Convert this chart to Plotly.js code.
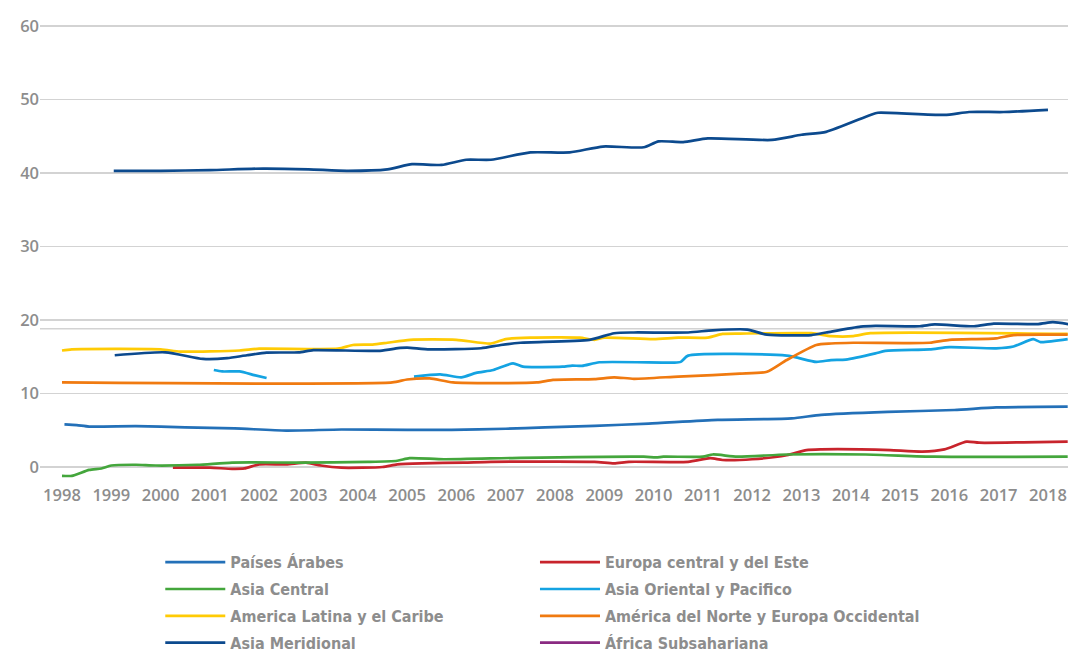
<!DOCTYPE html>
<html>
<head>
<meta charset="utf-8">
<script src="https://cdn.plot.ly/plotly-3.0.1.min.js"></script>
<style>html,body{margin:0;padding:0;background:#fff;}#chart{width:1071px;height:652px;}</style>
</head>
<body>
<div id="chart"></div>
<script>
// Tick labels
const anios = [1998,1999,2000,2001,2002,2003,2004,2005,2006,2007,2008,2009,2010,2011,2012,2013,2014,2015,2016,2017,2018];
const valoresY = [0,10,20,30,40,50,60];

// Países Árabes
const xPaisesArabes = [1998.05,1998.3,1998.55,1999.5,2000.5,2001.5,2002.55,2003.67,2005.0,2005.9,2007.0,2007.8,2008.8,2009.9,2011.3,2012.8,2013.4,2014.75,2016.1,2016.95,2018.4];
const yPaisesArabes = [5.8,5.7,5.5,5.55,5.4,5.25,4.95,5.1,5.05,5.05,5.2,5.4,5.6,5.9,6.4,6.6,7.1,7.5,7.75,8.1,8.2];

// Europa central y del Este
const xEuropaCentral = [2000.25,2001.0,2001.45,2001.7,2002.0,2002.55,2002.95,2003.25,2003.67,2004.5,2004.8,2005.3,2006.15,2006.7,2008.8,2009.2,2009.5,2010.7,2011.15,2011.4,2012.0,2012.7,2013.1,2013.4,2014.2,2014.8,2015.45,2015.9,2016.35,2016.6,2017.5,2018.4];
const yEuropaCentral = [-0.1,-0.1,-0.25,-0.2,0.35,0.35,0.6,0.2,-0.1,0.0,0.35,0.5,0.6,0.7,0.7,0.5,0.7,0.7,1.2,0.95,1.05,1.6,2.3,2.4,2.4,2.3,2.1,2.4,3.45,3.3,3.35,3.45];

// Asia Central
const xAsiaCentral = [1998.0,1998.2,1998.55,1998.8,1999.0,1999.5,1999.9,2000.75,2001.45,2002.85,2004.2,2004.8,2005.05,2005.75,2007.3,2009.8,2010.05,2010.2,2011.0,2011.2,2011.7,2012.7,2014.3,2015.7,2018.4];
const yAsiaCentral = [-1.2,-1.2,-0.4,-0.2,0.2,0.3,0.2,0.3,0.6,0.6,0.7,0.85,1.2,1.05,1.25,1.4,1.3,1.4,1.4,1.7,1.4,1.7,1.7,1.4,1.4];

// Asia Oriental y Pacifico (two segments)
const xAsiaOriental = [2001.08,2001.25,2001.6,2001.9,2002.15,2003.5,2005.14,2005.67,2006.1,2006.4,2006.75,2007.15,2007.35,2008.15,2008.35,2008.55,2008.9,2010.4,2010.55,2010.7,2012.7,2013.3,2013.6,2013.9,2014.5,2014.7,2015.6,2016.0,2016.95,2017.3,2017.7,2017.85,2018.4];
const yAsiaOriental = [13.2,13.0,13.0,12.5,12.1,null,12.3,12.6,12.2,12.8,13.2,14.1,13.65,13.65,13.8,13.75,14.25,14.2,14.3,15.15,15.15,14.3,14.55,14.6,15.45,15.8,16.0,16.3,16.15,16.4,17.4,17.0,17.4];

// America Latina y el Caribe
const xAmericaLatina = [1998.0,1998.2,2000.0,2000.4,2001.6,2002.0,2003.6,2003.9,2004.3,2004.6,2005.06,2006.0,2006.7,2007.0,2007.5,2008.5,2008.8,2009.0,2010.0,2010.5,2011.1,2011.4,2011.75,2013.2,2013.6,2014.05,2014.4,2018.4];
const yAmericaLatina = [15.85,16.0,16.0,15.7,15.85,16.1,16.1,16.6,16.65,16.9,17.3,17.3,16.8,17.4,17.6,17.6,17.3,17.6,17.4,17.6,17.6,18.1,18.15,18.2,17.8,17.8,18.2,18.1];

// América del Norte y Europa Occidental
const xAmericaNorte = [1998.0,2004.7,2005.0,2005.46,2005.93,2007.63,2007.96,2008.8,2009.2,2009.6,2010.5,2011.2,2011.75,2012.3,2012.7,2013.3,2013.6,2014.05,2015.6,2016.0,2016.95,2017.3,2018.4];
const yAmericaNorte = [11.5,11.5,11.9,12.05,11.5,11.5,11.85,11.95,12.2,12.0,12.3,12.5,12.7,12.95,14.55,16.6,16.8,16.9,16.9,17.3,17.5,17.95,18.0];

// Asia Meridional
const xAsiaMeridional = [1999.07,2000.1,2000.86,2001.35,2001.75,2002.15,2002.8,2003.1,2004.45,2004.86,2005.0,2005.46,2006.5,2006.9,2007.3,2008.7,2009.2,2009.6,2010.7,2011.2,2011.9,2012.3,2013.2,2013.5,2014.2,2014.5,2015.4,2015.7,2016.5,2016.9,2017.8,2018.1,2018.45];
const yAsiaMeridional = [15.2,15.6,14.7,14.8,15.2,15.55,15.6,15.9,15.8,16.2,16.25,16.0,16.15,16.6,16.9,17.3,18.2,18.3,18.3,18.6,18.7,18.0,17.95,18.3,19.1,19.2,19.15,19.4,19.15,19.5,19.45,19.7,19.4];

// Upper series (drawn in the same dark blue, not in legend)
const xSerieSuperior = [1999.05,2000.0,2001.0,2002.08,2003.0,2003.78,2004.6,2005.1,2005.7,2006.2,2006.7,2007.5,2008.3,2008.97,2009.8,2010.1,2010.6,2011.1,2012.4,2013.0,2013.5,2014.4,2014.55,2015.9,2016.4,2017.1,2018.0];
const ySerieSuperior = [40.3,40.3,40.4,40.6,40.5,40.3,40.5,41.2,41.1,41.8,41.8,42.8,42.8,43.6,43.5,44.3,44.2,44.7,44.5,45.2,45.6,47.9,48.2,47.9,48.3,48.3,48.6];

// África Subsahariana (no visible values)
const xAfricaSub = [null];
const yAfricaSub = [null];

const colores = {
  arabes: '#2370b8', europa: '#c8242c', central: '#44a63c', oriental: '#14a3e2',
  latina: '#ffcb05', norte: '#f07a10', meridional: '#0c4a8e', africa: '#8a2a82'
};

function serie(name, x, y, color, legendId, extra) {
  return Object.assign({
    type: 'scatter', mode: 'lines', name: name, x: x, y: y,
    line: {color: color, width: 2.7, shape: 'spline', smoothing: 0.6},
    connectgaps: false, hoverinfo: 'x+y+name',
    legend: legendId, legendgroup: name
  }, extra || {});
}

const data = [
  serie('Países Árabes', xPaisesArabes, yPaisesArabes, colores.arabes, 'legend'),
  serie('Europa central y del Este', xEuropaCentral, yEuropaCentral, colores.europa, 'legend2'),
  serie('Asia Central', xAsiaCentral, yAsiaCentral, colores.central, 'legend'),
  serie('Asia Oriental y Pacifico', xAsiaOriental, yAsiaOriental, colores.oriental, 'legend2'),
  serie('America Latina y el Caribe', xAmericaLatina, yAmericaLatina, colores.latina, 'legend'),
  serie('América del Norte y Europa Occidental', xAmericaNorte, yAmericaNorte, colores.norte, 'legend2'),
  serie('Asia Meridional', xAsiaMeridional, yAsiaMeridional, colores.meridional, 'legend'),
  serie('África Subsahariana', xAfricaSub, yAfricaSub, colores.africa, 'legend2'),
  serie('Serie superior', xSerieSuperior, ySerieSuperior, colores.meridional, 'legend', {showlegend: false})
];

const tickFont = {family: 'Open Sans, Noto Sans, sans-serif', size: 16.5, color: '#8d8d8d', weight: 600};
const legendFont = {family: 'DejaVu Sans Condensed, Liberation Sans Narrow, sans-serif', size: 16, color: '#8d8d8d', weight: 700};

function legendBox(x) {
  return {
    orientation: 'v', x: x, xanchor: 'left', y: -0.134, yanchor: 'top',
    itemwidth: 60, tracegroupgap: 3, traceorder: 'grouped',
    font: legendFont, bgcolor: 'rgba(0,0,0,0)'
  };
}

const layout = {
  width: 1071, height: 652,
  paper_bgcolor: '#ffffff', plot_bgcolor: '#ffffff',
  margin: {l: 40, r: 3, t: 18, b: 169, autoexpand: false},
  showlegend: true,
  xaxis: {
    range: [1997.554, 2018.406],
    tickvals: anios, ticktext: anios.map(String),
    showgrid: false, zeroline: false, showline: false, ticks: '',
    tickfont: tickFont, fixedrange: true, automargin: false
  },
  yaxis: {
    range: [-2.18, 61.09],
    tickvals: valoresY, ticktext: valoresY.map(String),
    showgrid: true, gridcolor: '#d3d3d3', gridwidth: 1.5,
    zeroline: false, showline: false, ticks: '',
    tickfont: tickFont, fixedrange: true, automargin: false
  },
  shapes: [{
    type: 'line', xref: 'paper', yref: 'y', x0: 0, x1: 1, y0: 18.8, y1: 18.8,
    line: {color: '#d3d3d3', width: 1.5}, layer: 'below'
  }],
  legend: legendBox(0.117),
  legend2: legendBox(0.4815)
};

Plotly.newPlot('chart', data, layout, {displayModeBar: false, staticPlot: true});
</script>
</body>
</html>
